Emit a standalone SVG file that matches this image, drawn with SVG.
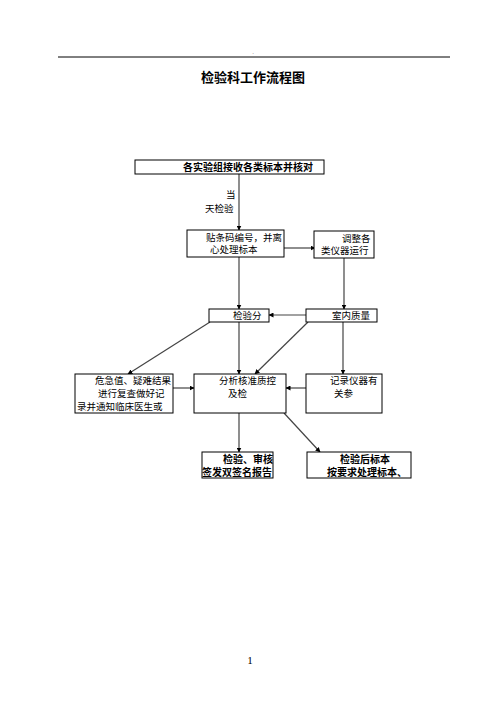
<svg xmlns="http://www.w3.org/2000/svg" width="496" height="702" viewBox="0 0 496 702">
<style>
text{font-family:"Liberation Serif","Noto Sans CJK SC",serif;fill:#000}
.t{font-size:9.5px}
.b{font-size:10px;font-weight:bold}
.box{fill:#fff;stroke:#000;stroke-width:1}
.c{stroke:#444;stroke-width:1.2;fill:none;marker-end:url(#ah)}
</style>
<defs>
<marker id="ah" viewBox="0 0 10 10" refX="9" refY="5" markerWidth="5" markerHeight="5" orient="auto" markerUnits="userSpaceOnUse">
<path d="M0,0 L10,5 L0,10 z" fill="#000"/>
</marker>
</defs>
<rect width="496" height="702" fill="#fff"/>
<line x1="58" y1="57" x2="450" y2="57" stroke="#000" stroke-width="1"/>
<text x="253" y="54" style="font-size:5px" text-anchor="middle">.</text>
<text x="253" y="82" text-anchor="middle" style="font-size:13px;font-weight:bold;font-family:'Noto Sans CJK SC',sans-serif">检验科工作流程图</text>

<g id="connectors">
<line class="c" x1="239" y1="174" x2="239" y2="230"/>
<line class="c" x1="284" y1="248" x2="315" y2="248"/>
<line class="c" x1="239" y1="257" x2="239" y2="309"/>
<line class="c" x1="344" y1="258" x2="344" y2="309"/>
<line class="c" x1="306" y1="315" x2="269" y2="315"/>
<line class="c" x1="210" y1="322" x2="128" y2="374"/>
<line class="c" x1="239" y1="322" x2="239" y2="374"/>
<line class="c" x1="308" y1="322" x2="255" y2="374"/>
<line class="c" x1="343" y1="322" x2="343" y2="374"/>
<line class="c" x1="173" y1="388" x2="194" y2="388"/>
<line class="c" x1="306" y1="388" x2="286" y2="388"/>
<line class="c" x1="239" y1="413" x2="239" y2="452"/>
<line class="c" x1="284" y1="413" x2="320" y2="452"/>
<text class="t" x="226" y="198">当</text>
<text class="t" x="205" y="212">天检验</text>
</g>

<g id="n1">
<rect class="box" x="135" y="160" width="189" height="14"/>
<text class="b" x="183" y="171">各实验组接收各类标本并核对</text>
</g>
<g id="n2">
<rect class="box" x="187" y="230" width="97" height="27"/>
<text class="t" x="206" y="241">贴条码编号，并离</text>
<text class="t" x="210" y="253">心处理标本</text>
</g>
<g id="n3">
<rect class="box" x="314" y="231" width="60" height="27"/>
<text class="t" x="342" y="242">调整各</text>
<text class="t" x="321" y="254">类仪器运行</text>
</g>
<g id="n4">
<rect class="box" x="209" y="309" width="60" height="13"/>
<text class="t" x="233" y="319">检验分</text>
</g>
<g id="n5">
<rect class="box" x="306" y="309" width="71" height="13"/>
<text class="t" x="332" y="319">室内质量</text>
</g>
<g id="n6">
<rect class="box" x="75" y="374" width="98" height="39"/>
<text class="t" x="95" y="384">危急值、疑难结果</text>
<text class="t" x="98" y="397">进行复查做好记</text>
<text class="t" x="77" y="410">录并通知临床医生或</text>
</g>
<g id="n7">
<rect class="box" x="194" y="374" width="92" height="39"/>
<text class="t" x="219" y="384">分析核准质控</text>
<text class="t" x="228" y="397">及检</text>
</g>
<g id="n8">
<rect class="box" x="306" y="374" width="76" height="39"/>
<text class="t" x="330" y="384">记录仪器有</text>
<text class="t" x="334" y="397">关参</text>
</g>
<g id="n9">
<rect class="box" x="202" y="452" width="71" height="26"/>
<text class="b" x="223" y="463">检验、审核</text>
<text class="b" x="202" y="476">签发双签名报告</text>
</g>
<g id="n10">
<rect class="box" x="307" y="452" width="104" height="26"/>
<text class="b" x="340" y="463">检验后标本</text>
<text class="b" x="327" y="476">按要求处理标本、</text>
</g>
<text x="250" y="664" text-anchor="middle" style="font-size:11px">1</text>
</svg>
